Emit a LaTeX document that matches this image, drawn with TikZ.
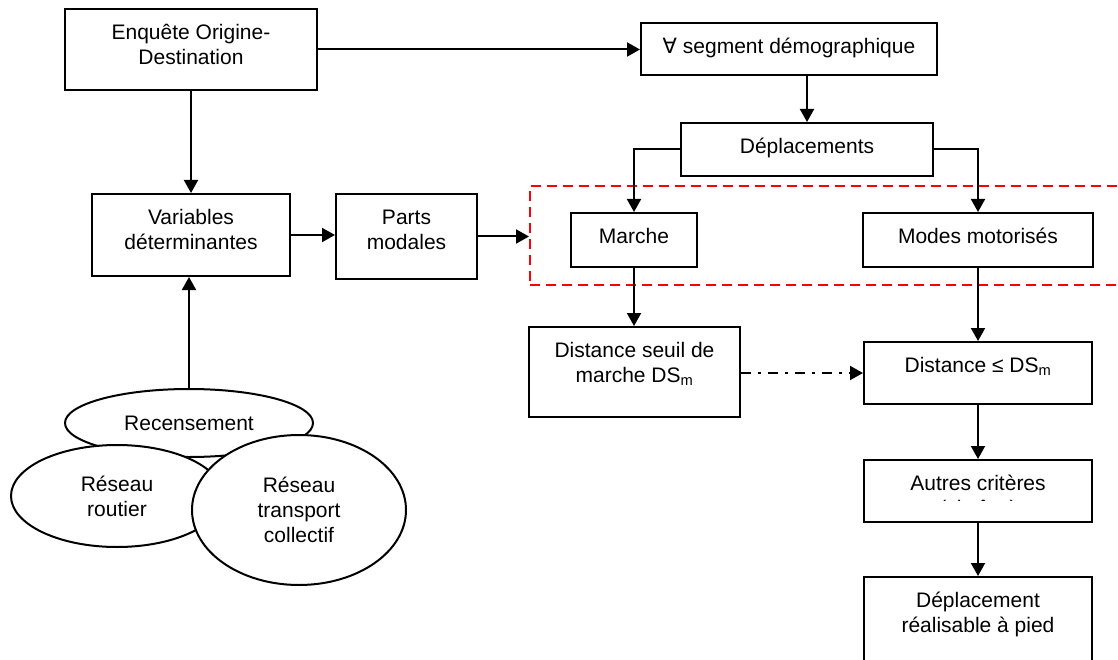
\documentclass[tikz,border=0pt]{standalone}
\usepackage{fontspec}
\setmainfont{Liberation Sans}
\newfontfamily\symbole{DejaVu Sans}
\usetikzlibrary{arrows.meta,positioning,shapes.geometric}
\newcommand{\police}{\fontsize{21}{25}\selectfont}

\begin{document}
\begin{tikzpicture}[x=1pt,y=-1pt,>={Triangle[length=13pt,width=14pt]},
    boite/.style={draw,line width=2pt,inner sep=0pt},
    texte/.style={inner sep=0pt,align=center,font=\police},
    bulle/.style={draw,ellipse,fill=white,line width=2pt,inner sep=0pt,align=center,font=\police},
    fleche/.style={->,line width=2pt},
    cadre/.style={draw=red,line width=2pt,dash pattern=on 10pt off 6pt}]
                \clip (0,0) rectangle (1118,660);
                % zone en pointilles rouges
                \node[cadre,minimum width=620pt,minimum height=99pt] (zone) at (840,235.5) {};
                % boites
                \node[boite,minimum width=252pt,minimum height=81pt] (enq) at (191,49.5) {};
                \node[boite,minimum width=296pt,minimum height=52pt] (seg) at (789,49) {};
                \node[boite,minimum width=252pt,minimum height=53pt] (dep) at (807,149.5) {};
                \node[boite,minimum width=126pt,minimum height=54pt] (mar) at (634,240) {};
                \node[boite,minimum width=230pt,minimum height=54pt] (mot) at (978,240) {};
                \node[boite,minimum width=198pt,minimum height=82pt] (var) at (191,235) {};
                \node[boite,minimum width=141pt,minimum height=85pt] (par) at (406.5,236.5) {};
                \node[boite,minimum width=211pt,minimum height=90pt] (dsm) at (634.5,372) {};
                \node[boite,minimum width=228pt,minimum height=62pt] (dle) at (978,373) {};
                \node[boite,minimum width=228pt,minimum height=62pt] (aut) at (978,491) {};
                \node[boite,minimum width=228pt,minimum height=85pt] (rea) at (978,619.5) {};
                % textes
                \node[texte,below=13.5pt of enq.north] (enq-t) {\strut Enquête Origine-\\\strut Destination};
                \node[texte,below=13.5pt of seg.north] (seg-t) {\strut{\symbole ∀} segment démographique};
                \node[texte,below=13.5pt of dep.north] (dep-t) {\strut Déplacements};
                \node[texte,below=13.5pt of mar.north] (mar-t) {\strut Marche};
                \node[texte,below=13.5pt of mot.north] (mot-t) {\strut Modes motorisés};
                \node[texte,below=13.5pt of var.north] (var-t) {\strut Variables\\\strut déterminantes};
                \node[texte,below=13.5pt of par.north] (par-t) {\strut Parts\\\strut modales};
                \node[texte,below=13.5pt of dsm.north] (dsm-t) {\strut Distance seuil de\\\strut marche DS\textsubscript{m}};
                \node[texte,below=13.5pt of dle.north] (dle-t) {\strut Distance ≤ DS\textsubscript{m}};
                \coordinate (coupe) at (0,500.5);
                \begin{scope}
                \clip (aut.north west) rectangle (aut.east |- coupe);
                \node[texte,below=13.5pt of aut.north] (aut-t) {\strut Autres critères\\\strut(chaîne)};
                \end{scope}
                \node[texte,below=13.5pt of rea.north] (rea-t) {\strut Déplacement\\\strut réalisable à pied};
                % sources
                \node[bulle,minimum width=248pt,minimum height=68pt] (rec) at (189,423) {Recensement};
                \node[bulle,minimum width=212pt,minimum height=102pt] (rr) at (117,496) {Réseau\\routier};
                \node[bulle,minimum width=214pt,minimum height=150pt] (rtc) at (299,510) {\raisebox{5pt}{\parbox{6em}{\centering Réseau\\transport\\collectif}}};
                % fleches
                \draw[fleche] (enq.east) -- (enq.east -| seg.west);
                \draw[fleche] (enq.south) -- (var.north);
                \draw[fleche] (seg.south -| dep.north) -- (dep.north);
                \draw[fleche] (dep.west) -| (mar.north);
                \draw[fleche] (dep.east) -| (mot.north);
                \draw[fleche] (var.east) -- (var.east -| par.west);
                \draw[fleche] (par.east) -- (par.east -| zone.west);
                \draw[fleche] (mar.south) -- (mar.south |- dsm.north);
                \draw[fleche,dash pattern=on 10pt off 7pt on 3pt off 7pt] (dle.west -| dsm.east) -- (dle.west);
                \draw[fleche] (mot.south) -- (dle.north);
                \draw[fleche] (dle.south) -- (aut.north);
                \draw[fleche] (aut.south) -- (rea.north);
                \draw[fleche] (rec.north) -- (rec.north |- var.south);
\end{tikzpicture}
\end{document}
